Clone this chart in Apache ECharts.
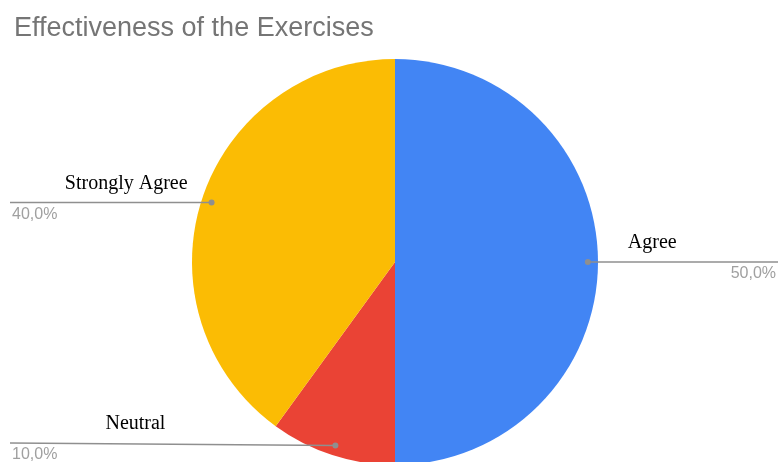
<!DOCTYPE html>
<html>
<head>
<meta charset="utf-8">
<script src="https://cdn.jsdelivr.net/npm/echarts@6/dist/echarts.min.js"></script>
<style>
  html, body { margin: 0; padding: 0; background: #fff; }
  #chart { width: 778px; height: 462px; }
</style>
</head>
<body>
<div id="chart"></div>
<script>
const categories = ["Agree", "Neutral", "Strongly Agree"];
const shares = [50, 10, 40];
const colors = ["#4285f4", "#ea4335", "#fbbc04"];

// pie geometry (px)
const CX = 395, CY = 262, R = 203;
// where the name sits relative to the dot on the slice
const nameOffset = [
  { dx: 40, align: "left" },
  { dx: -170, align: "right" },
  { dx: -24, align: "right" },
];
const lineEndDy = [0, -2.5, 0];

const chart = echarts.init(document.getElementById("chart"));
const W = chart.getWidth();
const dots = [];

function anchor(p) {
  const e = p.labelLinePoints[0];
  const dx = e[0] - CX, dy = e[1] - CY;
  const len = Math.hypot(dx, dy);
  const x = CX + (dx / len) * R * 0.95;
  const y = CY + (dy / len) * R * 0.95;
  const left = dx < 0;
  return { x, y, left, endX: left ? 10 : W, endY: y + lineEndDy[p.dataIndex] };
}

const pieBase = {
  type: "pie",
  center: [CX, CY],
  radius: R,
  startAngle: 90,
  clockwise: true,
  silent: true,
  animation: false,
  avoidLabelOverlap: false,
  emphasis: { disabled: true },
};

chart.setOption({
  title: {
    text: "Effectiveness of the Exercises",
    left: 9,
    top: 10,
    textStyle: {
      fontFamily: "Liberation Sans",
      fontSize: 27,
      fontWeight: "normal",
      color: "#757575",
    },
  },
  series: [
    {
      ...pieBase,
      z: 2,
      data: categories.map((name, i) => ({
        name,
        value: shares[i],
        itemStyle: { color: colors[i] },
      })),
      label: {
        show: true,
        position: "outside",
        formatter: "{b}",
        fontFamily: "Liberation Serif",
        fontSize: 20,
        color: "#000",
      },
      labelLine: { show: true, lineStyle: { opacity: 0 } },
      labelLayout: (p) => {
        const a = anchor(p);
        dots[p.dataIndex] = [a.x, a.y];
        const o = nameOffset[p.dataIndex];
        return {
          x: a.x + o.dx,
          y: a.endY - 19,
          align: o.align,
          verticalAlign: "middle",
        };
      },
    },
    {
      // transparent twin: carries the percent labels and the leader lines on top
      ...pieBase,
      z: 3,
      data: categories.map((name, i) => ({ name, value: shares[i] })),
      itemStyle: { color: "rgba(0,0,0,0)" },
      label: {
        show: true,
        position: "outside",
        formatter: (p) => p.percent.toFixed(1).replace(".", ",") + "%",
        fontFamily: "Liberation Sans",
        fontSize: 16,
        color: "#a0a0a0",
      },
      labelLine: { show: true, lineStyle: { color: "#8f8f8f", width: 1.5 } },
      labelLayout: (p) => {
        const a = anchor(p);
        return {
          x: a.left ? 12 : W - 2,
          y: a.endY + 12,
          align: a.left ? "left" : "right",
          verticalAlign: "middle",
          labelLinePoints: [[a.x, a.y], [a.endX, a.endY]],
        };
      },
    },
  ],
});

chart.setOption({
  graphic: dots.map((d) => ({
    type: "circle",
    shape: { cx: d[0], cy: d[1], r: 3 },
    style: { fill: "#8f8f8f" },
    z: 100,
  })),
});
</script>
</body>
</html>
